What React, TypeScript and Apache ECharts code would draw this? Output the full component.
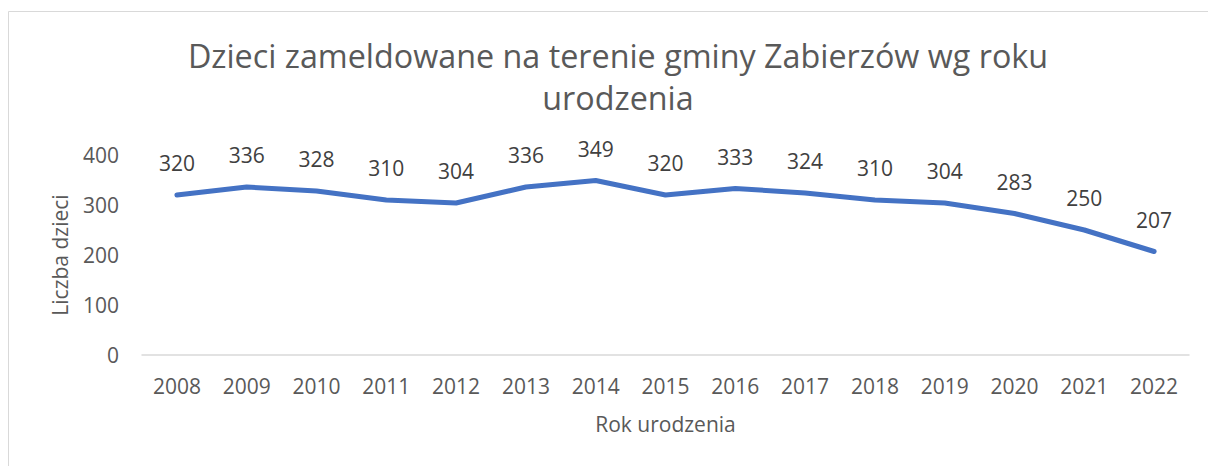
import React, { useEffect, useRef } from "react";
import * as echarts from "echarts";

const years = ["2008", "2009", "2010", "2011", "2012", "2013", "2014", "2015", "2016", "2017", "2018", "2019", "2020", "2021", "2022"];
const children = [320, 336, 328, 310, 304, 336, 349, 320, 333, 324, 310, 304, 283, 250, 207];
const titleText = "Dzieci zameldowane na terenie gminy Zabierzów wg roku\nurodzenia";
const yAxisName = "Liczba dzieci";
const xAxisName = "Rok urodzenia";

const FONT = "'Open Sans', 'Noto Sans', sans-serif";

export default function App() {
  const ref = useRef<HTMLDivElement>(null);
  useEffect(() => {
    document.body.style.margin = "0";
    const chart = echarts.init(ref.current!, null, { renderer: "svg" });
    chart.setOption({
      animation: false,
      backgroundColor: "#ffffff",
      textStyle: { fontFamily: FONT },
      graphic: [
        {
          type: "rect",
          silent: true,
          shape: { x: 8.5, y: 11.5, width: 1260, height: 520 },
          style: { fill: "none", stroke: "#d9d9d9", lineWidth: 1 },
        },
      ],
      title: {
        text: titleText,
        left: 613,
        top: 29,
        textAlign: "center",
        textStyle: {
          fontFamily: FONT,
          fontSize: 32.3,
          fontWeight: "normal",
          color: "#595959",
          lineHeight: 42,
          align: "center",
        },
      },
      grid: { left: 142, right: 19, top: 155, bottom: 111 },
      xAxis: {
        type: "category",
        data: years,
        boundaryGap: true,
        name: xAxisName,
        nameLocation: "middle",
        nameGap: 58,
        nameTextStyle: { fontFamily: FONT, fontSize: 21, color: "#595959" },
        axisLine: { show: true, lineStyle: { color: "#d9d9d9", width: 1.5 } },
        axisTick: { show: false },
        axisLabel: { margin: 20, fontFamily: FONT, fontSize: 21, color: "#595959" },
        splitLine: { show: false },
      },
      yAxis: {
        type: "value",
        min: 0,
        max: 400,
        interval: 100,
        name: yAxisName,
        nameLocation: "middle",
        nameRotate: 90,
        nameGap: 72,
        nameTextStyle: { fontFamily: FONT, fontSize: 21, color: "#595959" },
        axisLine: { show: false },
        axisTick: { show: false },
        axisLabel: { margin: 23, fontFamily: FONT, fontSize: 21, color: "#595959" },
        splitLine: { show: false },
      },
      series: [
        {
          type: "line",
          data: children,
          showSymbol: true,
          symbol: "circle",
          symbolSize: 1,
          itemStyle: { color: "rgba(68,114,196,0)", borderWidth: 0 },
          lineStyle: { color: "#4472C4", width: 5, cap: "round", join: "round" },
          label: {
            show: true,
            position: "top",
            distance: 21,
            fontFamily: FONT,
            fontSize: 21,
            color: "#404040",
          },
        },
      ],
    });
    return () => chart.dispose();
  }, []);
  return <div ref={ref} style={{ position: "fixed", left: 0, top: 0, width: 1208, height: 466 }} />;
}
